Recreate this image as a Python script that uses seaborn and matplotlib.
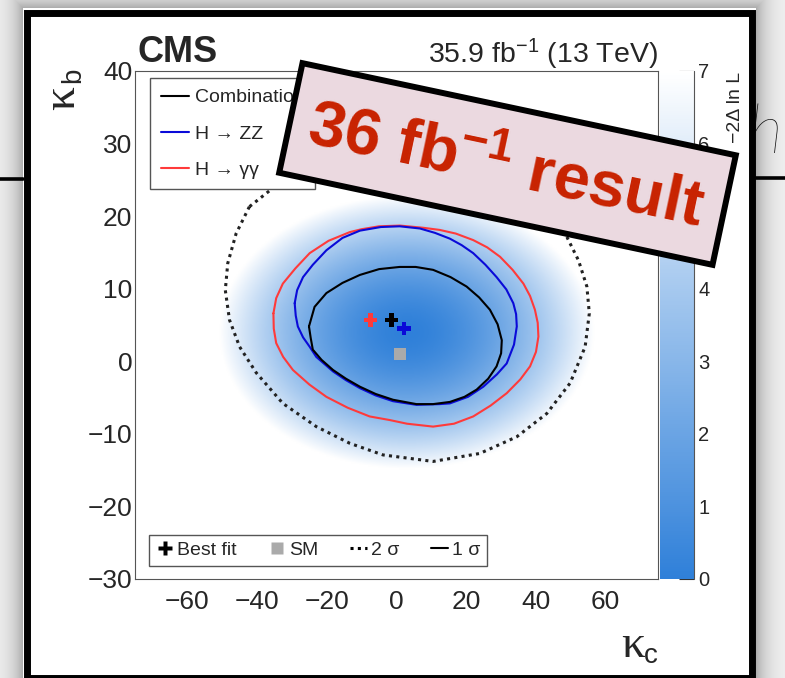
import numpy as np
import pandas as pd
import matplotlib
matplotlib.use("Agg")
import matplotlib.pyplot as plt
from matplotlib.colors import LinearSegmentedColormap
from matplotlib.lines import Line2D
from matplotlib.patches import Rectangle, Polygon
from matplotlib.ticker import MultipleLocator
import seaborn as sns

# ------------------------------------------------------------------ data
# 1 sigma contour of the combination (kappa_c, kappa_b)
comb1_kc = [-25.1, -24.6, -24.0, -21.5, -18.2, -14.5, -10.5, -6.0, -1.0, 5.7, 10.5, 15.3,
            19.5, 23.0, 26.3, 28.7, 30.0, 30.2, 29.0, 26.8, 23.7, 20.1, 15.5, 10.5, 5.5,
            0.9, -5.0, -10.5, -15.5, -20.1, -23.5]
comb1_kb = [4.8, 3.2, 1.6, 0.2, -1.2, -2.4, -3.5, -4.5, -5.3, -5.9, -5.9, -5.6,
            -4.9, -3.9, -2.4, -0.7, 1.1, 2.9, 5.1, 7.1, 8.8, 10.3, 11.6, 12.6, 13.0,
            13.0, 12.7, 11.9, 10.8, 9.4, 7.5]
# 1 sigma contour H -> ZZ
zz_kc = [-29.2, -28.9, -28.3, -26.8, -24.9, -23.0, -18.2, -14.5, -10.5, -6.0, -1.0, 5.7,
         12.4, 15.3, 20.5, 24.9, 28.8, 31.6, 33.7, 34.5, 34.3, 33.5, 31.5, 28.7, 25.5,
         22.0, 18.7, 15.3, 11.0, 6.7, 0.9, -4.5, -10.5, -15.5, -20.1, -24.0, -26.8, -28.5]
zz_kb = [8.0, 6.3, 4.8, 3.3, 2.0, 0.6, -1.4, -2.6, -3.7, -4.7, -5.5, -6.0,
         -5.9, -5.8, -4.9, -3.5, -1.8, -0.3, 2.3, 4.8, 6.5, 8.0, 9.9, 11.6, 13.3,
         14.9, 16.0, 16.9, 17.7, 18.3, 18.6, 18.5, 18.0, 17.0, 15.3, 13.3, 11.6, 9.8]
# 1 sigma contour H -> gamma gamma
gg_kc = [-35.3, -35.2, -34.5, -32.5, -29.7, -25.0, -20.1, -14.0, -7.7, -1.9, 3.0, 10.5,
         16.5, 22.0, 27.0, 31.6, 35.5, 38.3, 40.0, 40.7, 40.5, 39.7, 38.3, 36.4, 33.3,
         29.7, 26.0, 22.0, 17.0, 12.4, 7.6, 1.0, -5.0, -10.0, -13.4, -19.5, -24.9,
         -29.0, -32.6, -34.5]
gg_kb = [6.6, 4.5, 2.5, 0.6, -1.2, -3.2, -4.9, -6.4, -7.6, -8.1, -8.6, -9.0,
         -8.6, -7.6, -6.1, -4.4, -2.5, -0.7, 1.3, 3.4, 5.3, 7.1, 9.0, 10.7, 12.6,
         14.4, 15.7, 16.7, 17.6, 18.1, 18.4, 18.7, 18.6, 18.2, 17.8, 16.6, 14.9,
         12.8, 10.7, 8.7]
# 2 sigma contour of the combination
comb2_kc = [-42.2, -46.0, -48.4, -49.1, -47.9, -45.0, -40.2, -32.6, -23.0, -13.4, -3.9,
            10.5, 23.9, 34.5, 43.1, 49.8, 54.1, 55.3, 54.6, 52.2, 48.9, 43.0, 35.0,
            20.0, 0.0, -20.0, -33.0]
comb2_kb = [21.3, 17.6, 13.5, 9.8, 5.7, 2.0, -1.6, -5.8, -9.0, -11.3, -12.9,
            -13.8, -12.7, -10.4, -7.2, -3.0, 2.0, 6.6, 10.3, 13.9, 17.1, 21.0, 24.5,
            27.5, 28.5, 27.5, 24.8]
# best fits: combination, ZZ, gamma gamma
bf_kc = [-1.4, 2.1, -7.4]
bf_kb = [5.7, 4.5, 5.7]
bf_name = ["Combination", "H \u2192 ZZ", "H \u2192 \u03b3\u03b3"]
# standard model
sm_kc = [1.0]
sm_kb = [1.0]
# -2 Delta lnL surface of the combination (approximate shape read from the shading)
nll_center = (3.0, 4.0)
nll_width = (28.0, 9.8)
nll_at_1sigma = 2.30
nll_power = 1.7
x_ticks = [-60, -40, -20, 0, 20, 40, 60]
y_ticks = [-30, -20, -10, 0, 10, 20, 30, 40]
z_ticks = [0, 1, 2, 3, 4, 5, 6, 7]

# ------------------------------------------------------------------ style
sns.set_style("white")
plt.rcParams["font.family"] = ["Liberation Sans", "DejaVu Sans"]
plt.rcParams["mathtext.fontset"] = "custom"
plt.rcParams["mathtext.rm"] = "Liberation Sans"
plt.rcParams["mathtext.it"] = "Liberation Sans:italic"
plt.rcParams["mathtext.sf"] = "Liberation Sans"
plt.rcParams["mathtext.bf"] = "Liberation Sans:bold"

BLUE = "#0a0ad8"
RED = "#ff3a3a"
SPINE = "#555555"
SERIF = ["Liberation Serif", "DejaVu Serif"]
W, H = 785, 678
fig = plt.figure(figsize=(W / 100, H / 100), dpi=100)
fig.patch.set_facecolor("white")

# ---------------- slide background (shadow around the framed picture)
bg = fig.add_axes([0, 0, 1, 1], zorder=-5)
yy, xx = np.mgrid[0:H, 0:W]
d = np.maximum.reduce([23 - xx, xx - 755, 8 - yy, np.zeros_like(xx)])
shade = np.where(d > 0, 0.96 - 0.30 * np.exp(-d / 12.0), 1.0)
bg.imshow(np.dstack([shade] * 3), extent=(0, W, H, 0), aspect="auto", interpolation="bilinear")
bg.set_xlim(0, W)
bg.set_ylim(H, 0)
bg.axis("off")
bg.plot([0, 23], [178.5, 178.5], color="black", lw=2.6)
bg.plot([755, W], [177.5, 177.5], color="black", lw=2.6)
bg.text(747, 153, "h", fontsize=50, style="italic", fontweight="light",
        family=["Lato", "DejaVu Sans"], color="#111111", ha="left", va="baseline")

# ---------------- main plot
ax = fig.add_axes([135 / W, 99 / H, 523 / W, 508 / H])
ax.set_facecolor("white")
cmap = LinearSegmentedColormap.from_list("cmsblue", ["#2f80d9", "#ffffff"])
gx = np.linspace(-75, 75, 451)
gy = np.linspace(-30, 40, 351)
GX, GY = np.meshgrid(gx, gy)
R = np.hypot((GX - nll_center[0]) / nll_width[0], (GY - nll_center[1]) / nll_width[1])
Z = nll_at_1sigma * R ** nll_power
im = ax.imshow(Z, extent=(-75, 75, -30, 40), origin="lower", aspect="auto",
               cmap=cmap, vmin=0, vmax=7, interpolation="bilinear", zorder=0)


def draw_contour(xs, ys, **kw):
    df = pd.DataFrame({"kc": list(xs) + [xs[0]], "kb": list(ys) + [ys[0]]})
    sns.lineplot(data=df, x="kc", y="kb", sort=False, estimator=None, ax=ax,
                 legend=False, **kw)


DOT = (0, (1, 1.4))
draw_contour(comb2_kc, comb2_kb, color="#222222", lw=2.2, linestyle=DOT, zorder=2)
draw_contour(gg_kc, gg_kb, color=RED, lw=1.5, zorder=2)
draw_contour(zz_kc, zz_kb, color=BLUE, lw=1.5, zorder=2)
draw_contour(comb1_kc, comb1_kb, color="black", lw=1.5, zorder=3)

sns.scatterplot(x=sm_kc, y=sm_kb, marker="s", s=85, color="#aaaaaa", edgecolor="none",
                ax=ax, zorder=4, legend=False)
bf_df = pd.DataFrame({"kc": bf_kc, "kb": bf_kb, "name": bf_name})
sns.scatterplot(data=bf_df, x="kc", y="kb", hue="name", marker="P", s=95,
                palette={bf_name[0]: "black", bf_name[1]: BLUE, bf_name[2]: RED},
                edgecolor="none", ax=ax, zorder=5, legend=False)

ax.set_xlabel("")
ax.set_ylabel("")
ax.set_xlim(-75, 75)
ax.set_ylim(-30, 40)
ax.set_xticks(x_ticks)
ax.set_yticks(y_ticks)
ax.xaxis.set_minor_locator(MultipleLocator(5))
ax.yaxis.set_minor_locator(MultipleLocator(2))
ax.tick_params(which="both", direction="in", color=SPINE, width=0.8, top=False, right=False)
ax.tick_params(which="major", length=11, labelsize=19)
ax.tick_params(which="minor", length=5.5)
ax.tick_params(axis="x", which="major", pad=8)
ax.tick_params(axis="y", which="major", pad=2)
for sp in ax.spines.values():
    sp.set_color(SPINE)
    sp.set_linewidth(0.8)

# axis titles: kappa (serif) with small sans subscript
ax.text(0.975, -0.1535, "\u03ba", transform=ax.transAxes, fontsize=34, family=SERIF,
        ha="right", va="baseline")
ax.text(1.0, -0.165, "c", transform=ax.transAxes, fontsize=20, ha="right", va="baseline")
ax.text(-0.117, 0.923, "\u03ba", transform=ax.transAxes, fontsize=34, family=SERIF,
        rotation=90, rotation_mode="anchor", ha="left", va="baseline")
ax.text(-0.105, 0.976, "b", transform=ax.transAxes, fontsize=20,
        rotation=90, rotation_mode="anchor", ha="left", va="baseline")

ax.text(0.004, 1.018, "CMS", transform=ax.transAxes, fontsize=26, fontweight="bold",
        ha="left", va="baseline")
ax.text(1.0, 1.016, "35.9 fb$^{\\mathsf{-1}}$ (13 TeV)", transform=ax.transAxes,
        fontsize=20.5, ha="right", va="baseline")

# legends
h_top = [Line2D([], [], color="black", lw=1.5), Line2D([], [], color=BLUE, lw=1.5),
         Line2D([], [], color=RED, lw=1.5)]
leg1 = ax.legend(h_top, bf_name, loc="upper left", bbox_to_anchor=(0.0287, 0.986),
                 fontsize=14, frameon=True, fancybox=False, edgecolor=SPINE, framealpha=1,
                 borderpad=0.55, labelspacing=0.95, handlelength=1.45, handletextpad=0.3,
                 borderaxespad=0)
leg1.get_frame().set_linewidth(1.0)
leg1.set_zorder(6)
ax.add_artist(leg1)

h_bot = [Line2D([], [], ls="none", marker="P", color="black", ms=9.5, mec="none"),
         Line2D([], [], ls="none", marker="s", color="#aaaaaa", ms=9, mec="none"),
         Line2D([], [], color="black", lw=2.2, ls=DOT),
         Line2D([], [], color="black", lw=1.5)]
leg2 = ax.legend(h_bot, ["Best fit", "SM", "2 \u03c3", "1 \u03c3"], loc="lower left",
                 bbox_to_anchor=(0.0268, 0.0256), ncol=4, fontsize=14, frameon=True,
                 fancybox=False, edgecolor=SPINE, framealpha=1, borderpad=0.35,
                 handlelength=0.9, handletextpad=0.2, columnspacing=1.6, borderaxespad=0)
leg2.get_frame().set_linewidth(1.0)
leg2.set_zorder(6)

# colour bar
cax = fig.add_axes([660 / W, 99 / H, 34 / W, 508 / H])
cb = fig.colorbar(im, cax=cax, ticks=z_ticks)
cb.outline.set_visible(False)
cax.tick_params(direction="in", length=11, width=0.8, color="#333333", labelsize=14.5,
                pad=3, right=True, left=False)
cax.plot([1, 1], [0, 1], transform=cax.transAxes, color=SPINE, lw=0.8, clip_on=False)
fig.text(736 / W, 1 - 72 / H, "\u22122\u0394 ln L", rotation=90, ha="center", va="top",
         fontsize=14)

# ---------------- overlay: frame and label box
ov = fig.add_axes([0, 0, 1, 1], zorder=20)
ov.set_xlim(0, W)
ov.set_ylim(H, 0)
ov.axis("off")
ov.patch.set_alpha(0)
ov.add_patch(Rectangle((26.5, 12.5), 725, 665, fill=False, ec="black", lw=5))

cx, cy, bw, bh, ang = 507.5, 164.0, 443.0, 112.0, np.deg2rad(12.0)
u = np.array([np.cos(ang), np.sin(ang)])
v = np.array([-np.sin(ang), np.cos(ang)])
c = np.array([cx, cy])
corners = [c - bw / 2 * u - bh / 2 * v, c + bw / 2 * u - bh / 2 * v,
           c + bw / 2 * u + bh / 2 * v, c - bw / 2 * u + bh / 2 * v]
ov.add_patch(Polygon(corners, closed=True, fc="#ebd9e0", ec="black", lw=4.3,
                     joinstyle="miter"))
ov.text(cx - 2, cy + 4, "36 fb$^{\\mathbf{-1}}$ result", rotation=-12, rotation_mode="anchor",
        ha="center", va="center", fontsize=47, fontweight="bold", color="#c82200")

fig.savefig("out.png", dpi=100)
